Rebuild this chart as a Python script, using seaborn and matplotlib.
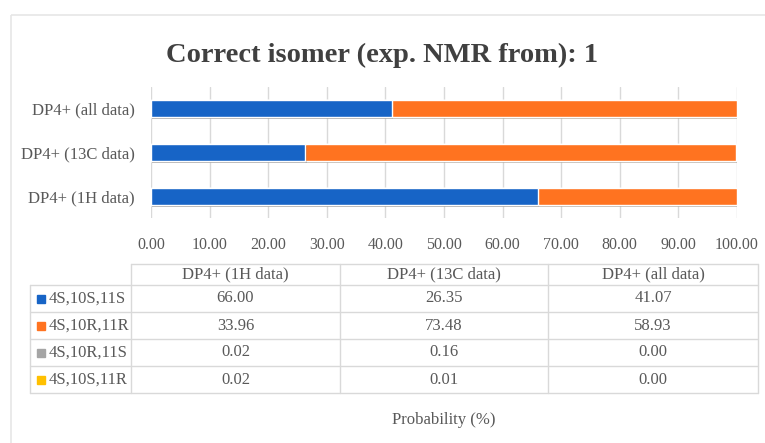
import matplotlib
matplotlib.use('Agg')
import numpy as np
import pandas as pd
import matplotlib.pyplot as plt
import seaborn as sns
from matplotlib.patches import Rectangle
import matplotlib.patheffects as pe

# dados
categorias = ['DP4+ (1H data)', 'DP4+ (13C data)', 'DP4+ (all data)']
isomeros = ['4S,10S,11S', '4S,10R,11R', '4S,10R,11S', '4S,10S,11R']
prob_sss = [66.00, 26.35, 41.07]
prob_srr = [33.96, 73.48, 58.93]
prob_srs = [0.02, 0.16, 0.00]
prob_ssr = [0.02, 0.01, 0.00]
cores = ['#1764C6', '#FF7320', '#A5A5A5', '#FFC000']
ticks_x = [0, 10, 20, 30, 40, 50, 60, 70, 80, 90, 100]

ordem_eixo = ['DP4+ (all data)', 'DP4+ (13C data)', 'DP4+ (1H data)']

df = pd.DataFrame({'Categoria': categorias,
                   isomeros[0]: prob_sss, isomeros[1]: prob_srr,
                   isomeros[2]: prob_srs, isomeros[3]: prob_ssr})

sns.set_style('white')
plt.rcParams['font.family'] = ['Liberation Serif', 'DejaVu Serif']
texto = '#595959'

W, H = 765, 443
fig = plt.figure(figsize=(W / 100, H / 100), dpi=100)

# camada de fundo em pixels (moldura e tabela)
bg = fig.add_axes([0, 0, 1, 1], zorder=0)
bg.set_xlim(0, W)
bg.set_ylim(H, 0)
bg.axis('off')
bg.add_patch(Rectangle((11, 15), W, H, fill=False, edgecolor='#E6E6E6', lw=1.2))

ax = fig.add_axes([151 / W, 1 - 218 / H, (737 - 151) / W, (218 - 87) / H], zorder=1)

# barras empilhadas: desenha as somas acumuladas da maior para a menor
acum = df[isomeros].cumsum(axis=1)
for i in range(len(isomeros) - 1, -1, -1):
    sns.barplot(x=acum[isomeros[i]], y=df['Categoria'], order=ordem_eixo,
                color=cores[i], saturation=1, width=0.39, orient='h', ax=ax, zorder=3)

# sombra leve como no Excel
for p in ax.patches:
    p.set_path_effects([pe.SimplePatchShadow(offset=(1, -1.5), alpha=0.15), pe.Normal()])

ax.set_xlim(0, 100)
ax.set_ylim(2.5, -0.5)
ax.set_xticks(ticks_x)
ax.set_xticklabels(['%.2f' % t for t in ticks_x])
ax.grid(axis='x', color='#D9D9D9', lw=1, zorder=0)
ax.set_axisbelow(True)
for s in ax.spines.values():
    s.set_visible(False)
ax.tick_params(axis='x', length=0, labelsize=11.5, colors=texto, pad=14)
ax.tick_params(axis='y', length=0, labelsize=12, colors=texto, pad=11.5)
ax.set_xlabel('')
ax.set_ylabel('')

fig.text(0.5, 1 - 55 / H, 'Correct isomer (exp. NMR from): 1', ha='center', va='center',
         fontsize=20.5, color='#404040', fontweight='bold')

# tabela de dados
col_x = [30, 131, 340, 548, 758]
lin_y = [264, 285, 312, 339, 366, 393]
cor_linha = '#D9D9D9'
bg.plot([col_x[1], col_x[-1]], [lin_y[0], lin_y[0]], color=cor_linha, lw=1)
for y in lin_y[1:]:
    bg.plot([col_x[0], col_x[-1]], [y, y], color=cor_linha, lw=1)
bg.plot([col_x[0], col_x[0]], [lin_y[1], lin_y[-1]], color=cor_linha, lw=1)
for x in col_x[1:]:
    bg.plot([x, x], [lin_y[0], lin_y[-1]], color=cor_linha, lw=1)

for j, cat in enumerate(categorias):
    xc = (col_x[j + 1] + col_x[j + 2]) / 2
    bg.text(xc, (lin_y[0] + lin_y[1]) / 2, cat, ha='center', va='center',
            fontsize=12, color=texto)
    for i, iso in enumerate(isomeros):
        yc = (lin_y[i + 1] + lin_y[i + 2]) / 2
        bg.text(xc, yc, '%.2f' % df[iso][j], ha='center', va='center',
                fontsize=12, color=texto)

for i, iso in enumerate(isomeros):
    yc = (lin_y[i + 1] + lin_y[i + 2]) / 2
    bg.add_patch(Rectangle((37, yc - 4), 8, 8, color=cores[i]))
    bg.text(49, yc, iso, ha='left', va='center', fontsize=12, color=texto)

bg.text((151 + 737) / 2, 420, 'Probability (%)', ha='center', va='center',
        fontsize=12, color=texto)

plt.savefig('out.png', dpi=100)
